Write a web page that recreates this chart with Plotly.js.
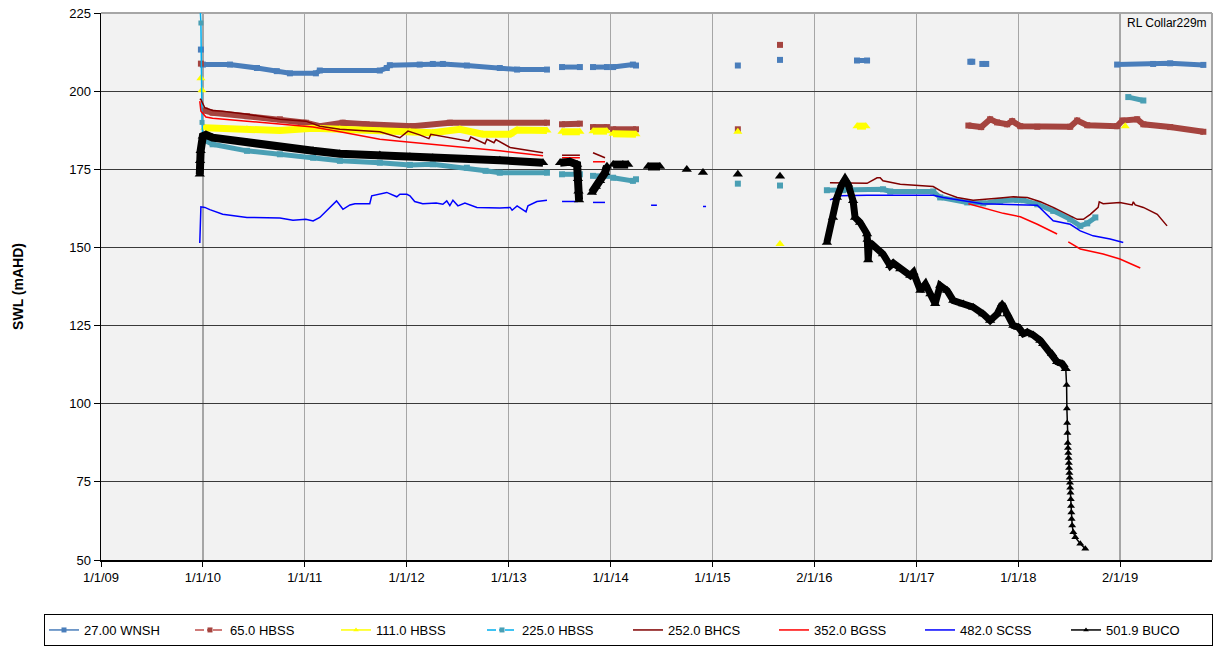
<!DOCTYPE html>
<html>
<head>
<meta charset="utf-8">
<script src="https://cdn.plot.ly/plotly-3.0.1.min.js"></script>
<style>html,body{margin:0;padding:0;background:#fff;}#chart{width:1213px;height:646px;}</style>
</head>
<body>
<div id="chart"></div>
<script>
// ---------- axis labels ----------
const tickDates = ['2009-01-01','2010-01-01','2011-01-01','2012-01-01','2013-01-01','2014-01-01','2015-01-01','2016-01-01','2017-01-01','2018-01-01','2019-01-01'];
const tickLabels = ['1/1/09','1/1/10','1/1/11','1/1/12','1/1/13','1/1/14','1/1/15','2/1/16','1/1/17','1/1/18','2/1/19'];
const yTicks = [50,75,100,125,150,175,200,225];
const seriesNames = ['27.00 WNSH','65.0 HBSS','111.0 HBSS','225.0 HBSS','252.0 BHCS','352.0 BGSS','482.0 SCSS','501.9 BUCO'];

// ---------- series values [date, SWL mAHD] (null = no reading) ----------
const wnsh = [
['2009-12-25',213.3],['2009-12-29',null],
['2010-01-01',208.5],['2010-04-08',208.5],['2010-07-14',207.4],['2010-09-23',206.4],['2010-11-09',205.7],['2011-02-10',205.7],['2011-02-24',206.6],['2011-09-27',206.6],['2011-10-22',207.4],['2011-11-02',208.3],['2012-02-17',208.5],['2012-04-04',208.7],['2012-05-10',208.7],['2012-08-04',208.2],['2012-11-30',207.4],['2013-01-31',206.9],['2013-05-18',206.9],
['2013-06-15',null],['2013-07-11',207.7],['2013-09-13',207.7],
['2013-10-10',null],['2013-10-30',207.7],['2013-12-19',207.7],
['2013-12-30',null],['2014-01-10',207.7],['2014-03-22',208.5],['2014-04-02',208.2],
['2014-10-01',null],['2015-04-02',208.2],
['2015-06-01',null],['2015-08-31',210.0],
['2016-01-01',null],['2016-06-02',209.8],['2016-07-08',209.8],
['2017-01-01',null],['2017-07-13',209.4],['2017-07-20',209.4],
['2017-08-10',null],['2017-08-25',208.7],['2017-09-08',208.7],
['2018-06-01',null],['2018-12-21',208.5],['2019-04-29',208.7],['2019-06-29',208.9],['2019-10-26',208.4]
];
const hbss65 = [
['2009-12-25',208.8],['2009-12-29',null],
['2010-01-08',193.8],['2010-02-05',193.1],['2010-06-08',192.0],['2010-10-04',191.0],['2011-01-05',189.9],['2011-02-24',188.8],['2011-05-17',189.9],['2011-08-11',189.4],['2012-01-23',188.8],['2012-06-04',189.9],['2013-05-18',189.9],
['2013-06-15',null],['2013-07-11',189.4],['2013-09-13',189.6],
['2013-10-10',null],['2013-10-30',188.5],['2013-12-19',188.5],
['2013-12-30',null],['2014-01-10',187.8],['2014-04-02',187.8],
['2014-10-01',null],['2015-04-02',187.8],
['2015-06-01',null],['2015-08-31',214.8],
['2016-01-01',null],
['2017-07-06',189.0],['2017-08-21',188.5],['2017-09-22',191.0],['2017-10-17',190.0],['2017-11-22',189.4],['2017-12-10',190.4],['2018-01-08',188.8],['2018-03-10',188.6],['2018-07-06',188.6],['2018-07-31',190.6],['2018-09-05',189.1],['2018-12-21',188.8],['2019-01-09',190.6],['2019-03-03',191.0],['2019-03-25',189.4],['2019-06-29',188.5],['2019-10-26',187.0]
];
const hbss111 = [
['2009-12-25',204.1],['2009-12-27',null],['2009-12-29',200.3],['2009-12-31',null],
['2010-01-08',188.3],['2010-06-08',187.8],['2010-10-04',187.4],['2011-01-31',188.1],['2011-05-07',187.8],['2011-09-27',187.2],['2012-01-13',187.0],['2012-04-04',186.7],['2012-07-10',187.8],['2012-09-30',186.2],['2013-01-06',186.2],['2013-01-31',187.6],['2013-05-18',187.4],
['2013-06-15',null],['2013-07-11',187.0],['2013-09-13',187.0],
['2013-10-10',null],['2013-10-30',187.2],['2013-12-19',187.2],
['2013-12-30',null],['2014-01-10',186.4],['2014-04-02',186.2],
['2014-10-01',null],['2015-04-02',187.0],
['2015-06-01',null],['2015-08-31',151.1],
['2016-01-01',null],['2016-06-02',188.8],['2016-07-04',188.8],
['2017-01-01',null],['2019-01-19',188.8]
];
const hbss225Start = [['2009-12-21',229.0],['2009-12-25',221.8],['2009-12-29',190.0],['2010-01-01',184.5]];
const hbss225 = [
['2010-01-01',184.5],['2010-02-05',183.0],['2010-06-08',180.9],['2010-10-04',179.8],['2011-01-31',178.7],['2011-05-07',177.7],['2011-09-27',177.1],['2012-01-13',176.4],['2012-04-04',176.6],['2012-08-04',175.5],['2012-10-10',174.5],['2012-11-30',173.9],['2013-05-18',173.9],
['2013-06-15',null],['2013-07-11',173.4],['2013-09-13',173.4],
['2013-10-10',null],['2013-10-30',172.9],['2013-12-19',172.9],
['2013-12-30',null],['2014-01-10',172.3],['2014-03-22',171.3],['2014-04-02',171.8],
['2014-10-01',null],['2015-04-02',170.4],
['2015-06-01',null],['2015-08-31',169.8],
['2016-01-01',null],
['2016-02-15',168.3],['2016-04-13',168.3],['2016-05-08',168.6],['2016-09-03',168.6],['2016-09-29',167.9],['2017-03-02',167.9],['2017-03-27',166.0],['2017-07-02',164.4],['2017-08-28',164.1],['2017-10-28',164.9],['2017-12-28',165.2],['2018-01-19',165.1],['2018-03-10',163.8],['2018-05-06',161.7],['2018-07-06',159.0],['2018-08-11',156.9],['2018-09-05',157.7],['2018-10-04',159.6],
['2018-12-01',null],['2019-01-30',198.1],['2019-03-25',197.0]
];
const bhcs252 = [
['2009-12-21',197.5],['2009-12-25',197.3],['2010-01-08',194.7],['2010-02-05',193.8],['2010-03-13',193.6],['2010-06-08',192.6],['2010-10-04',191.0],['2011-01-05',190.4],['2011-02-24',188.8],['2011-05-07',187.8],['2011-09-27',187.0],['2011-12-08',185.1],['2012-01-06',187.2],['2012-02-17',186.0],
['2012-03-21',184.8],['2012-03-28',186.2],['2012-08-11',184.0],['2012-08-18',185.3],['2012-10-08',183.2],['2012-10-15',184.6],['2012-11-09',183.5],['2012-11-16',184.5],['2013-01-06',182.0],['2013-05-04',180.3],
['2013-06-15',null],['2013-07-11',179.5],['2013-09-13',179.5],
['2013-10-10',null],['2013-10-30',180.3],['2013-12-12',178.7],
['2014-01-15',null],['2014-05-26',176.5],
['2015-10-01',null],
['2016-02-26',170.7],['2016-07-08',170.5],['2016-08-13',172.3],['2016-08-24',172.3],['2016-09-03',171.3],['2016-11-04',170.2],['2017-03-02',169.5],['2017-04-07',167.6],['2017-05-27',166.0],['2017-07-23',165.1],['2017-10-28',165.8],['2017-12-14',166.2],['2018-02-02',166.0],['2018-03-21',164.6],['2018-05-06',162.8],['2018-06-25',160.6],['2018-07-31',159.0],['2018-08-22',159.0],['2018-09-16',160.6],['2018-10-14',162.8],['2018-10-18',164.6],['2018-11-01',164.0],['2018-12-31',164.4],['2019-02-13',163.6],['2019-02-17',164.6],['2019-02-24',163.6],['2019-03-25',162.8],['2019-05-14',160.6],['2019-06-18',156.9]
];
const bgss352 = [
['2009-12-21',196.8],['2009-12-25',193.6],['2010-01-12',191.7],['2010-02-05',191.3],['2010-06-08',190.4],['2010-10-04',189.4],['2011-01-31',188.5],['2011-05-07',187.0],['2011-09-27',184.6],['2011-12-08',184.0],['2012-01-23',183.6],['2012-04-04',183.0],['2012-08-04',181.9],['2012-11-30',180.9],['2013-05-04',179.3],
['2013-06-15',null],['2013-07-11',178.7],['2013-09-13',178.7],
['2013-10-10',null],['2013-10-30',177.4],['2013-12-12',177.4],
['2014-06-01',null],
['2017-07-06',164.0],['2017-11-08',160.9],['2018-01-08',159.8],['2018-03-10',157.4],['2018-05-20',154.3],
['2018-06-10',null],['2018-06-29',151.8],['2018-08-11',149.5],['2018-11-01',147.9],['2018-12-31',146.3],['2019-03-14',143.4]
];
const scss482 = [
['2009-12-21',151.4],['2009-12-25',163.0],['2010-01-08',162.8],['2010-01-26',162.1],['2010-03-13',160.6],['2010-06-08',159.6],['2010-10-04',159.4],['2010-11-20',158.7],['2011-01-05',159.0],['2011-01-31',158.5],['2011-02-24',159.6],['2011-03-20',161.7],['2011-04-25',164.9],['2011-05-18',162.2],['2011-06-12',163.6],['2011-06-30',164.0],['2011-08-22',164.0],['2011-08-29',166.5],['2011-09-27',167.0],['2011-10-22',167.6],['2011-11-27',166.2],['2011-12-08',167.0],['2012-01-02',167.0],['2012-01-13',166.5],['2012-01-30',164.7],['2012-02-28',164.0],['2012-04-16',164.2],['2012-05-10',163.8],['2012-05-24',164.9],['2012-06-04',163.4],['2012-06-15',165.1],['2012-07-03',163.3],['2012-07-28',164.2],['2012-08-22',163.3],['2012-09-09',162.8],['2012-11-30',162.6],['2013-01-06',162.8],['2013-01-13',161.9],['2013-01-31',163.3],['2013-03-04',161.4],['2013-03-11',163.3],['2013-04-12',164.7],['2013-05-18',165.1],
['2013-06-15',null],['2013-07-11',164.7],['2013-09-06',164.7],
['2013-10-10',null],['2013-10-30',164.4],['2013-12-12',164.4],
['2013-12-30',null],['2014-01-10',164.4],
['2014-03-01',null],['2014-05-26',163.5],['2014-06-16',163.5],
['2014-08-01',null],['2014-10-01',163.1],
['2014-11-01',null],['2014-11-28',163.1],['2014-12-09',163.1],
['2015-06-01',null],
['2016-02-26',165.2],['2016-04-02',166.5],['2016-07-08',166.7],['2017-03-02',166.7],['2017-04-07',166.0],['2017-07-02',164.9],['2017-08-25',164.0],['2018-03-10',163.5],['2018-05-06',158.5],['2018-07-06',157.4],['2018-08-11',155.3],['2018-09-26',153.7],['2018-11-26',152.7],['2019-01-12',151.6]
];
const bucoEarly = [
['2009-12-21',173.4],['2009-12-22',177.7],['2009-12-24',180.9],['2010-01-01',185.6],['2010-01-12',186.0],['2010-02-05',185.1],['2010-06-08',183.5],['2010-10-04',181.9],['2011-01-31',180.9],['2011-05-07',180.0],['2011-09-27',179.6],['2012-01-13',179.0],['2012-04-04',178.7],['2012-08-04',178.2],['2012-11-30',177.9],['2013-05-04',177.1],
['2013-06-10',null],['2013-07-04',177.1],['2013-08-08',177.4],['2013-09-03',176.5],['2013-09-06',172.0],['2013-09-08',168.0],['2013-09-10',165.2],
['2013-10-01',null],['2013-10-26',167.6],['2013-11-09',169.5],['2013-11-24',171.3],['2013-12-12',173.9],['2013-12-19',176.0],
['2014-01-01',null],['2014-01-10',176.5],['2014-02-14',176.5],['2014-03-05',176.5],
['2014-04-15',null],['2014-05-15',175.9],['2014-06-27',175.9],
['2014-08-15',null],['2014-10-01',174.9],
['2014-11-01',null],['2014-11-28',174.0],
['2015-01-15',null],['2015-04-02',173.4],
['2015-06-01',null],['2015-08-31',172.8]
];
const bucoMid = [
['2016-02-15',151.6],['2016-03-08',159.6],['2016-03-22',166.0],['2016-04-09',170.2],['2016-04-20',171.8],['2016-05-01',170.2],['2016-05-19',164.9],['2016-05-26',159.6],['2016-06-13',158.0],['2016-07-08',154.3],['2016-07-10',152.5],['2016-07-12',146.0],['2016-07-16',151.0],['2016-07-26',151.0],['2016-09-03',147.9],['2016-09-29',144.1],['2016-10-10',145.0],['2016-11-04',143.1],['2016-12-10',141.0],['2016-12-21',142.0],['2017-01-15',136.2],['2017-02-02',138.3],['2017-02-20',135.1],['2017-03-09',132.0],['2017-03-27',137.8],['2017-04-21',136.2],['2017-05-13',133.0],['2017-06-18',131.9],['2017-07-23',130.9],['2017-08-28',128.7],['2017-09-22',126.6],['2017-10-17',128.7],['2017-11-04',131.9],['2017-11-22',128.7],['2017-12-14',125.0],['2018-01-01',124.5],['2018-01-19',122.4],['2018-02-02',122.9],['2018-02-23',122.0],['2018-03-21',120.2],['2018-03-31',119.2],['2018-05-02',116.0],['2018-05-20',113.4],['2018-06-07',112.8],['2018-06-20',111.2]
];
const bucoLate = [
['2018-06-20',111.2],['2018-06-23',106.0],['2018-06-24',98.5],['2018-06-25',93.8],['2018-06-26',90.6],['2018-06-27',87.4],['2018-06-28',85.8],['2018-06-29',84.2],['2018-06-30',82.6],['2018-07-01',81.0],['2018-07-02',79.4],['2018-07-03',77.8],['2018-07-04',76.3],['2018-07-05',74.7],['2018-07-06',73.1],['2018-07-07',71.5],['2018-07-08',69.4],['2018-07-09',67.3],['2018-07-10',65.2],['2018-07-11',63.1],['2018-07-13',61.0],['2018-07-17',58.9],['2018-07-24',57.3],['2018-08-11',55.2],['2018-08-29',53.6]
];

// ---------- build traces ----------
const xs = p => p.map(d => d[0]);
const ys = p => p.map(d => d[1]);
function dataTrace(pairs, line, marker, group) {
  return {type:'scatter', mode: marker ? 'lines+markers' : 'lines', x: xs(pairs), y: ys(pairs),
    line: line, marker: marker || {}, connectgaps:false, showlegend:false, legendgroup: group, hoverinfo:'skip'};
}
function legendTrace(name, line, marker) {
  return {type:'scatter', mode: marker ? 'lines+markers' : 'lines', x:[null], y:[null], name:name,
    line: line, marker: marker || {}, legendgroup: name, hoverinfo:'skip'};
}
const traces = [
  legendTrace(seriesNames[0], {color:'#4a7ebb', width:1.5}, {symbol:'square', size:5, color:'#4a7ebb'}),
  legendTrace(seriesNames[1], {color:'#c0504d', width:1.5, dash:'dashdot'}, {symbol:'square', size:5, color:'#a5443f'}),
  legendTrace(seriesNames[2], {color:'#ffff00', width:1.5}, {symbol:'triangle-up', size:5, color:'#ffff00'}),
  legendTrace(seriesNames[3], {color:'#00b0f0', width:1.5, dash:'dashdot'}, {symbol:'square', size:5, color:'#4a9fb4'}),
  legendTrace(seriesNames[4], {color:'#800000', width:1.5}),
  legendTrace(seriesNames[5], {color:'#ff0000', width:1.5}),
  legendTrace(seriesNames[6], {color:'#0000ff', width:1.5}),
  legendTrace(seriesNames[7], {color:'#000000', width:1.5}, {symbol:'triangle-up', size:5, color:'#000000'}),
  dataTrace(wnsh, {color:'#4a7ebb', width:5}, {symbol:'square', size:6, color:'#4a7ebb'}, seriesNames[0]),
  dataTrace(hbss65, {color:'#a5443f', width:6}, {symbol:'square', size:6, color:'#a5443f'}, seriesNames[1]),
  dataTrace(hbss111, {color:'#ffff00', width:7}, {symbol:'triangle-up', size:8, color:'#ffff00'}, seriesNames[2]),
  dataTrace(hbss225Start, {color:'#00b0f0', width:1.5}, {symbol:'square', size:5, color:'#4a9fb4'}, seriesNames[3]),
  dataTrace(hbss225, {color:'#4a9fb4', width:5}, {symbol:'square', size:6, color:'#4a9fb4'}, seriesNames[3]),
  dataTrace(bhcs252, {color:'#800000', width:1.5}, null, seriesNames[4]),
  dataTrace(bgss352, {color:'#ff0000', width:1.5}, null, seriesNames[5]),
  dataTrace(scss482, {color:'#0000ff', width:1.5}, null, seriesNames[6]),
  dataTrace(bucoEarly, {color:'#000000', width:8}, {symbol:'triangle-up', size:9, color:'#000000'}, seriesNames[7]),
  dataTrace(bucoMid, {color:'#000000', width:7}, {symbol:'triangle-up', size:9, color:'#000000'}, seriesNames[7]),
  dataTrace(bucoLate, {color:'#000000', width:1.5}, {symbol:'triangle-up', size:7, color:'#000000'}, seriesNames[7])
];

const layout = {
  width:1213, height:646,
  margin:{l:101, r:1, t:13, b:85},
  paper_bgcolor:'#ffffff', plot_bgcolor:'#f2f2f2',
  font:{family:'"Liberation Sans", Arial, sans-serif', size:13, color:'#000'},
  xaxis:{type:'date', range:['2009-01-01','2019-11-26'], tickmode:'array', tickvals:tickDates, ticktext:tickLabels,
    showgrid:true, gridcolor:'#a6a6a6', gridwidth:1.5, showline:true, linecolor:'#000', linewidth:1.5,
    ticks:'outside', ticklen:5, tickcolor:'#000', zeroline:false, tickfont:{size:13}, fixedrange:true},
  yaxis:{range:[50,225], tickmode:'array', tickvals:yTicks, showgrid:true, gridcolor:'#3a3a3a', gridwidth:1,
    showline:true, linecolor:'#000', linewidth:1.5, ticks:'outside', ticklen:6, tickcolor:'#000', zeroline:false,
    tickfont:{size:13}, title:{text:'<b>SWL (mAHD)</b>', font:{size:14}, standoff:42}, fixedrange:true},
  showlegend:true,
  legend:{orientation:'h', x:-0.046, xanchor:'left', y:-0.097, yanchor:'top', bordercolor:'#000', borderwidth:1,
    bgcolor:'#ffffff', entrywidth:101, entrywidthmode:'pixels', font:{size:13}, itemwidth:30},
  shapes:[
    {type:'line', xref:'paper', yref:'paper', x0:0, x1:1, y0:1, y1:1, line:{color:'#a6a6a6', width:2}, layer:'between'},
    {type:'line', xref:'paper', yref:'paper', x0:1, x1:1, y0:0, y1:1, line:{color:'#a6a6a6', width:2}, layer:'between'}
  ],
  annotations:[{text:'RL Collar229m', xref:'paper', yref:'paper', x:1, y:0.982, xanchor:'right', yanchor:'middle',
    xshift:-3, showarrow:false, font:{size:12}}]
};
Plotly.newPlot('chart', traces, layout, {staticPlot:true, displayModeBar:false});
</script>
</body>
</html>
